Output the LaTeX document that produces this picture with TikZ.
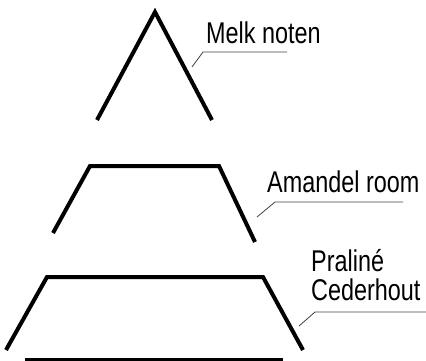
\documentclass[tikz,border=0pt]{standalone}
\usepackage{fontspec}
\setmainfont[FakeStretch=0.78]{Liberation Sans}
\usepackage{tikz}

\begin{document}
\begin{tikzpicture}[x=1pt, y=-1pt, line join=miter,
        layer/.style={line width=4pt},
        leader/.style={line width=0.8pt, black!75},
        lbl/.style={anchor=base west, inner sep=0pt, align=left,
            font=\fontsize{30}{29}\selectfont}]
                \useasboundingbox (0, 0) rectangle (426, 361);

                % top
                \draw[layer] (97, 120) -- (155, 12) -- (212, 120);
                % middle
                \draw[layer] (53, 233) -- (90, 166) -- (219, 166) -- (255, 242);
                % bottom
                \draw[layer] (6, 350) -- (47, 277) -- (263, 277) -- (303, 350);
                \draw[layer] (25, 360) -- (283, 360);

                \node[lbl] (melk) at (206, 44) {Melk noten};
                \node[lbl] (amandel) at (267, 192) {Amandel room};
                \node[lbl] (praline) at (311, 300) {Praliné\\Cederhout};

                \draw[leader] (192, 67) -- (203, 52) -- (287, 52);
                \draw[leader] (257, 217) -- (275, 202) -- (403, 202);
                \draw[leader] (299, 326) -- (315, 312) -- (426, 312);
            \end{tikzpicture}
\end{document}
